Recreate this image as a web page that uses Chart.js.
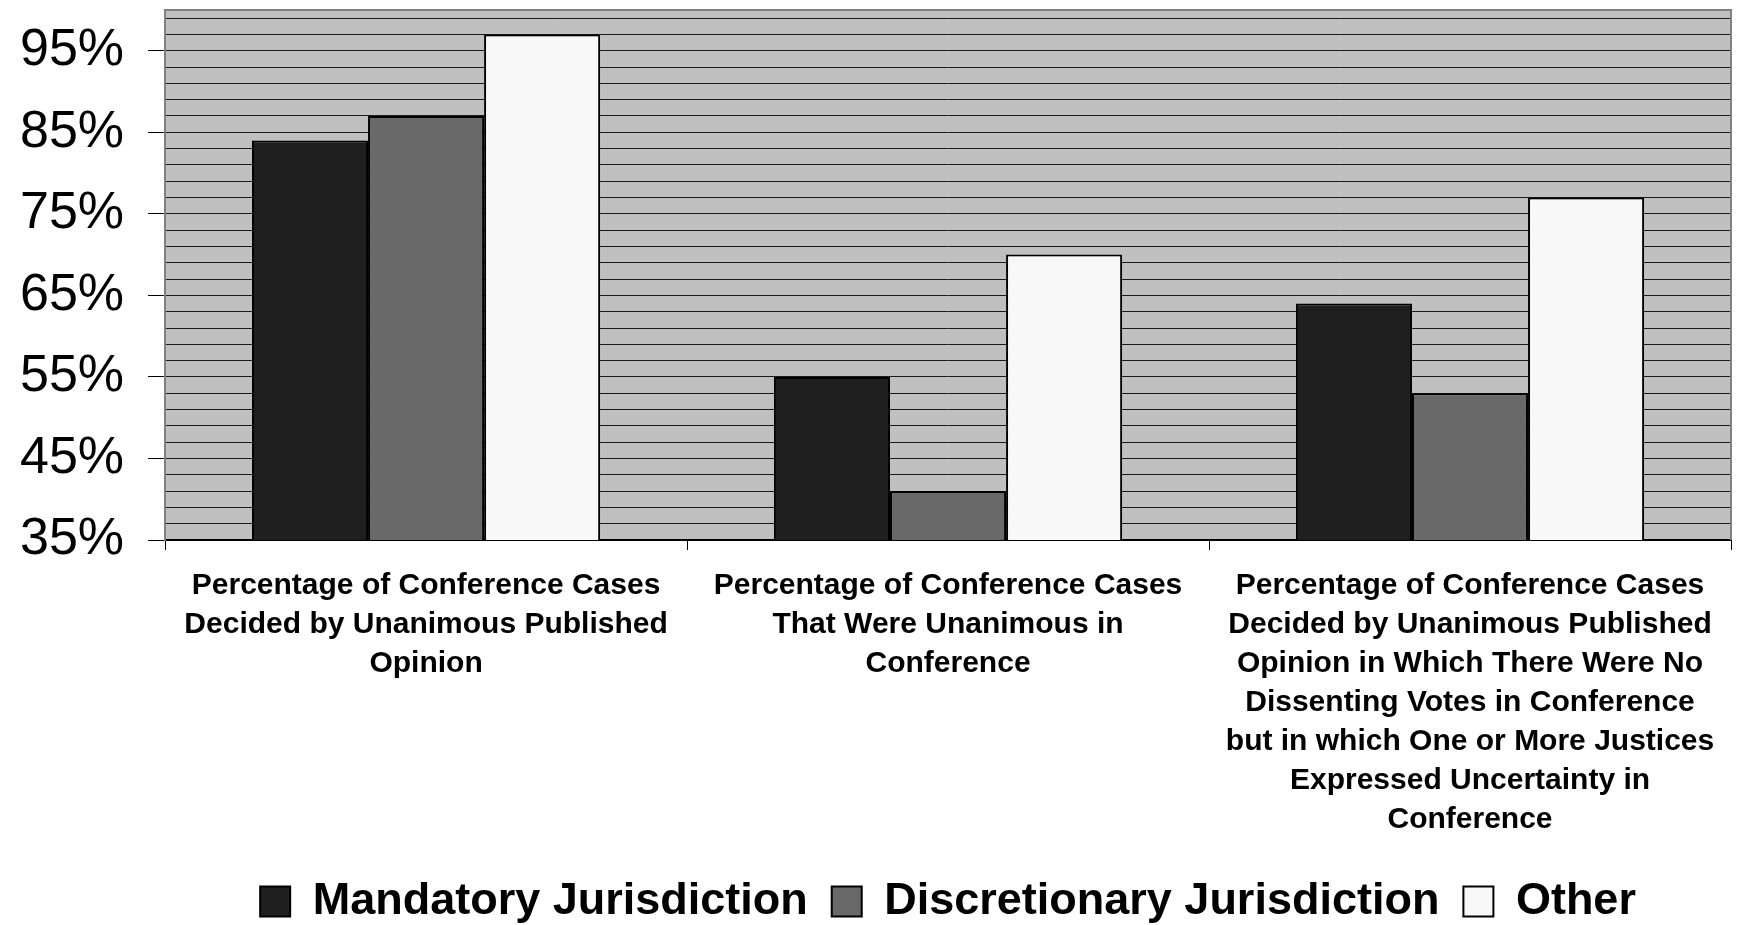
<!DOCTYPE html>
<html>
<head>
<meta charset="utf-8">
<script src="https://cdn.jsdelivr.net/npm/chart.js@4/dist/chart.umd.min.js"></script>
<style>
  html, body { margin: 0; padding: 0; background: #ffffff; }
  #wrap { width: 1742px; height: 925px; position: relative; }
</style>
</head>
<body>
<div id="wrap"><canvas id="chart"></canvas></div>
<script>
// Category labels (wrapped into lines)
const categories = [
  ["Percentage of Conference Cases", "Decided by Unanimous Published", "Opinion"],
  ["Percentage of Conference Cases", "That Were Unanimous in", "Conference"],
  ["Percentage of Conference Cases", "Decided by Unanimous Published", "Opinion in Which There Were No", "Dissenting Votes in Conference", "but in which One or More Justices", "Expressed Uncertainty in", "Conference"]
];

// Series values, percent
const mandatory = [84, 55, 64];
const discretionary = [87, 41, 53];
const other = [97, 70, 77];

// Series names
const seriesNames = ["Mandatory Jurisdiction", "Discretionary Jurisdiction", "Other"];

// Y axis range and tick spacing
const yMin = 35;
const yMax = 100;
const gridStep = 2;
const labelStep = 10;

const font = "'Liberation Sans', Arial, Helvetica, sans-serif";

// Grey plot area with a thin frame
const plotBackground = {
  id: 'plotBackground',
  beforeDraw(chart) {
    const { ctx, chartArea: a } = chart;
    ctx.save();
    ctx.fillStyle = '#c0c0c0';
    ctx.fillRect(a.left, a.top, a.right - a.left, a.bottom - a.top);
    ctx.restore();
  },
  afterDraw(chart) {
    const { ctx, chartArea: a } = chart;
    ctx.save();
    ctx.strokeStyle = '#808080';
    ctx.lineWidth = 2;
    ctx.beginPath();
    ctx.moveTo(a.left, a.top);
    ctx.lineTo(a.right, a.top);
    ctx.lineTo(a.right, a.bottom);
    ctx.stroke();
    ctx.restore();
  }
};

const isLabelled = v => (v - yMin) % labelStep === 0 && v < yMax;

new Chart(document.getElementById('chart'), {
  type: 'bar',
  data: {
    labels: categories,
    datasets: [
      { label: seriesNames[0], data: mandatory, backgroundColor: '#1f1f1f', borderColor: '#000000', borderWidth: 2 },
      { label: seriesNames[1], data: discretionary, backgroundColor: '#696969', borderColor: '#000000', borderWidth: 2 },
      { label: seriesNames[2], data: other, backgroundColor: '#f8f8f8', borderColor: '#000000', borderWidth: 2 }
    ]
  },
  options: {
    responsive: true,
    maintainAspectRatio: false,
    animation: false,
    layout: { padding: { left: -4, right: 11, top: 10, bottom: -9 } },
    datasets: { bar: { categoryPercentage: 0.667, barPercentage: 1.0, borderSkipped: false } },
    plugins: {
      tooltip: { enabled: false },
      legend: {
        position: 'bottom',
        fullSize: false,
        labels: {
          color: '#000000',
          font: { family: font, size: 45, weight: 'bold' },
          boxWidth: 30,
          boxHeight: 30,
          padding: 24
        }
      }
    },
    scales: {
      x: {
        offset: true,
        grid: {
          offset: true,
          drawOnChartArea: false,
          drawTicks: true,
          tickLength: 10,
          tickColor: '#000000',
          lineWidth: 1
        },
        border: { display: true, color: '#000000', width: 2 },
        ticks: {
          color: '#000000',
          font: { family: font, size: 30, weight: 'bold', lineHeight: 1.3 },
          maxRotation: 0,
          autoSkip: false,
          padding: 16
        }
      },
      y: {
        min: yMin,
        max: yMax,
        afterBuildTicks(scale) {
          const ticks = [];
          for (let v = yMin; v < yMax; v += gridStep) ticks.push({ value: v });
          ticks.push({ value: yMax });
          scale.ticks = ticks;
        },
        afterFit(scale) {
          // the top tick carries no label, so no room is needed above it
          scale.paddingTop = 0;
        },
        grid: {
          color: ctx => (ctx.tick && (ctx.tick.value === yMax || ctx.tick.value === yMin)) ? 'rgba(0,0,0,0)' : '#1a1a1a',
          lineWidth: 1,
          drawTicks: true,
          tickLength: 17,
          tickColor: ctx => (ctx.tick && isLabelled(ctx.tick.value)) ? '#000000' : 'rgba(0,0,0,0)'
        },
        border: { display: true, color: '#808080', width: 2 },
        ticks: {
          autoSkip: false,
          color: '#000000',
          font: { family: font, size: 52 },
          padding: 24,
          callback: v => v === yMax ? null : (isLabelled(v) ? v + '%' : '')
        }
      }
    }
  },
  plugins: [plotBackground]
});
</script>
</body>
</html>
